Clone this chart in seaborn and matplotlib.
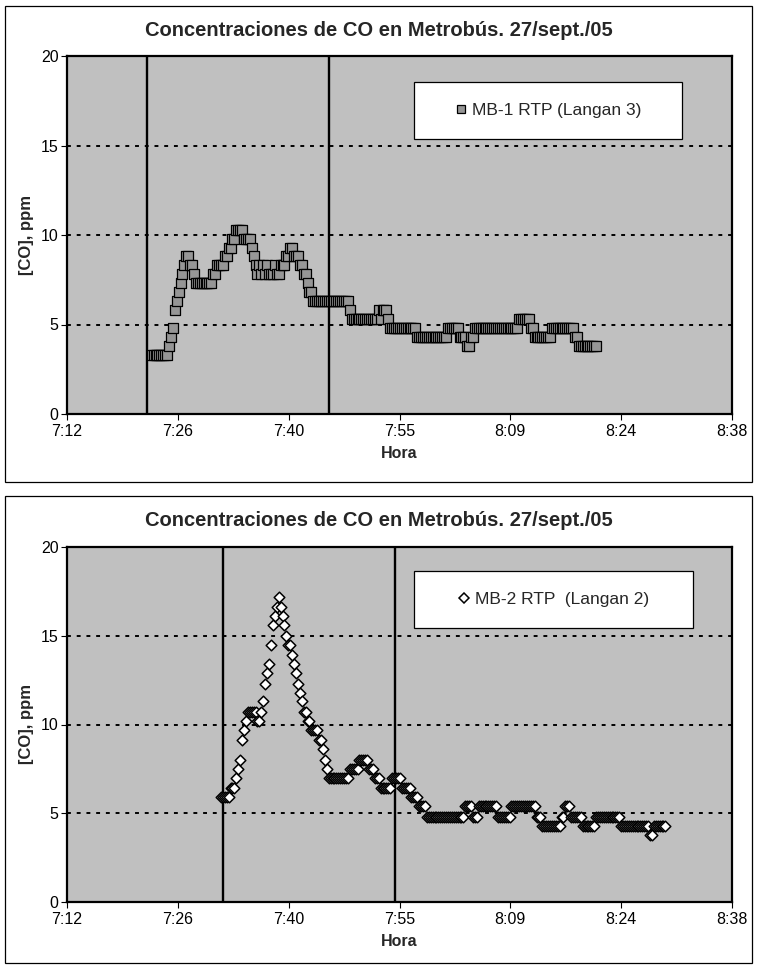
import pandas as pd
import matplotlib
matplotlib.use("Agg")
import matplotlib.pyplot as plt
from matplotlib.patches import Rectangle
from matplotlib.lines import Line2D
import seaborn as sns

# ---------------- data ----------------
title_text = "Concentraciones de CO en Metrobús. 27/sept./05"
x_label = "Hora"
y_label = "[CO], ppm"
tick_minutes = [432.0, 446.4, 460.8, 475.2, 489.6, 504.0, 518.4]
tick_labels = ["7:12", "7:26", "7:40", "7:55", "8:09", "8:24", "8:38"]
y_ticks = [0, 5, 10, 15, 20]
sample_step = "15s"

mb1_label = "MB-1 RTP (Langan 3)"
mb1_start = "07:23:00"
mb1_events = ["07:22:25", "07:46:00"]
mb1_co = [
    3.3, 3.3, 3.3, 3.3, 3.3, 3.3, 3.3, 3.3, 3.3,
    3.8, 4.3, 4.8, 5.8, 6.3, 6.8, 7.3, 7.8, 8.3, 8.8, 8.8, 8.3, 8.3, 7.8,
    7.3, 7.3, 7.3, 7.3, 7.3, 7.3, 7.3, 7.3, 7.3,
    7.8, 7.8, 8.3, 8.3, 8.3, 8.3, 8.8, 8.8, 9.3, 9.3, 9.8, 9.8,
    10.3, 10.3, 10.3, 10.3, 9.8, 9.8, 9.8, 9.8, 9.3, 8.8, 8.3, 7.8,
    8.3, 7.8, 8.3, 7.8, 8.3, 7.8, 7.8, 7.8, 8.3, 7.8, 7.8, 8.3, 8.3, 8.3,
    8.8, 8.8, 9.3, 9.3, 8.8, 8.8, 8.8, 8.3, 8.3, 7.8, 7.8, 7.3, 6.8, 6.8,
    6.3, 6.3, 6.3, 6.3, 6.3, 6.3, 6.3, 6.3, 6.3, 6.3,
    6.3, 6.3, 6.3, 6.3, 6.3, 6.3, 6.3, 6.3, 6.3,
    5.8,
    5.3, 5.3, 5.3, 5.3, 5.3, 5.3, 5.3, 5.3, 5.3, 5.3, 5.3, 5.3, 5.3, 5.3,
    5.8, 5.3, 5.8, 5.8, 5.8, 5.3,
    4.8, 4.8, 4.8, 4.8, 4.8, 4.8, 4.8, 4.8, 4.8, 4.8, 4.8, 4.8, 4.8, 4.8,
    4.3, 4.3, 4.3, 4.3, 4.3, 4.3, 4.3, 4.3, 4.3, 4.3, 4.3, 4.3, 4.3, 4.3, 4.3, 4.3,
    4.8, 4.8, 4.8, 4.8, 4.8, 4.8,
    4.3, 4.3, 4.3, 4.3, 3.8, 3.8, 4.3, 4.3,
    4.8, 4.8, 4.8, 4.8, 4.8, 4.8, 4.8, 4.8, 4.8, 4.8, 4.8, 4.8,
    4.8, 4.8, 4.8, 4.8, 4.8, 4.8, 4.8, 4.8, 4.8, 4.8, 4.8,
    5.3, 5.3, 5.3, 5.3, 5.3, 5.3,
    4.8, 4.8,
    4.3, 4.3, 4.3, 4.3, 4.3, 4.3, 4.3, 4.3, 4.3,
    4.8, 4.8, 4.8, 4.8, 4.8, 4.8, 4.8, 4.8, 4.8, 4.8, 4.8, 4.8,
    4.3, 4.3,
    3.8, 3.8, 3.8, 3.8, 3.8, 3.8, 3.8, 3.8, 3.8, 3.8,
]

mb2_label = "MB-2 RTP  (Langan 2)"
mb2_start = "07:32:00"
mb2_events = ["07:32:15", "07:54:35"]
mb2_co = [
    5.9, 5.9, 5.9, 5.9, 5.9, 6.4, 6.4, 6.4,
    7.0, 7.5, 8.0, 9.1, 9.7, 10.2,
    10.7, 10.7, 10.7, 10.7, 10.7, 10.2, 10.2, 10.7, 11.3,
    12.3, 12.9, 13.4, 14.5, 15.6, 16.1, 16.6, 17.2,
    16.6, 16.1, 15.6, 15.0, 14.5, 14.5, 13.9, 13.4, 12.9, 12.3, 11.8, 11.3,
    10.7, 10.7, 10.2, 10.2, 9.7, 9.7, 9.7, 9.7, 9.1, 9.1, 8.6, 8.0, 7.5,
    7.0, 7.0, 7.0, 7.0, 7.0, 7.0, 7.0, 7.0, 7.0, 7.0, 7.0,
    7.5, 7.5, 7.5, 7.5, 7.5,
    8.0, 8.0, 8.0, 8.0, 8.0,
    7.5, 7.5, 7.5,
    7.0, 7.0, 7.0,
    6.4, 6.4, 6.4, 6.4, 6.4, 6.4,
    7.0, 7.0, 7.0, 7.0, 7.0,
    6.4, 6.4, 6.4, 6.4, 6.4,
    5.9, 5.9, 5.9, 5.9,
    5.4, 5.4, 5.4, 5.4,
    4.8, 4.8, 4.8, 4.8, 4.8, 4.8, 4.8, 4.8, 4.8, 4.8,
    4.8, 4.8, 4.8, 4.8, 4.8, 4.8, 4.8, 4.8, 4.8, 4.8,
    5.4, 5.4, 5.4, 5.4,
    4.8, 4.8, 4.8,
    5.4, 5.4, 5.4, 5.4, 5.4, 5.4, 5.4, 5.4, 5.4, 5.4,
    4.8, 4.8, 4.8, 4.8, 4.8, 4.8, 4.8,
    5.4, 5.4, 5.4, 5.4, 5.4, 5.4, 5.4, 5.4, 5.4, 5.4, 5.4, 5.4, 5.4,
    4.8, 4.8, 4.8,
    4.3, 4.3, 4.3, 4.3, 4.3, 4.3, 4.3, 4.3, 4.3, 4.3,
    4.8, 4.8,
    5.4, 5.4, 5.4,
    4.8, 4.8, 4.8, 4.8, 4.8, 4.8,
    4.3, 4.3, 4.3, 4.3, 4.3, 4.3, 4.3,
    4.8, 4.8, 4.8, 4.8, 4.8, 4.8, 4.8, 4.8, 4.8, 4.8, 4.8, 4.8, 4.8,
    4.3, 4.3, 4.3, 4.3, 4.3, 4.3, 4.3, 4.3, 4.3, 4.3, 4.3, 4.3, 4.3, 4.3, 4.3,
    3.8, 3.8,
    4.3, 4.3, 4.3, 4.3, 4.3, 4.3, 4.3,
]


def clock_minutes(t):
    h, m, s = (int(p) for p in t.split(":"))
    return h * 60 + m + s / 60.0


def series_frame(start, values):
    stamps = pd.date_range("2005-09-27 " + start, periods=len(values), freq=sample_step)
    minutes = stamps.hour * 60 + stamps.minute + stamps.second / 60.0
    return pd.DataFrame({"minute": minutes, "co": values})


# ---------------- figure ----------------
W, H = 757, 967
sns.set_theme(style="white")
plt.rcParams["font.family"] = ["Liberation Sans Narrow", "Liberation Sans", "DejaVu Sans"]

fig = plt.figure(figsize=(W / 100, H / 100), dpi=100)
fig.patch.set_facecolor("white")


def px_rect(left, top, right, bottom):
    return [left / W, 1 - bottom / H, (right - left) / W, (bottom - top) / H]


def draw_panel(frame_box, plot_box, title_y, df, events, marker, msize, edge_w, face,
               label, legend_box, legend_msize):
    # chart-area frame
    fl, ft, fr, fb = frame_box
    fig.add_artist(Rectangle((fl / W, 1 - fb / H), (fr - fl) / W, (fb - ft) / H,
                             transform=fig.transFigure, fill=False,
                             edgecolor="black", linewidth=0.9))

    ax = fig.add_axes(px_rect(*plot_box))
    ax.set_facecolor("#c0c0c0")

    for v in y_ticks[1:]:
        ax.axhline(v, color="black", linewidth=1.4, linestyle=(0, (2, 3)), zorder=1)
    for t in events:
        ax.axvline(clock_minutes(t), color="black", linewidth=1.7, zorder=2)

    sns.scatterplot(data=df, x="minute", y="co", marker=marker, s=msize ** 2,
                    color=face, edgecolor="black", linewidth=edge_w,
                    legend=False, ax=ax, zorder=3)

    ax.set_xlim(tick_minutes[0], tick_minutes[-1])
    ax.set_ylim(y_ticks[0], y_ticks[-1])
    ax.set_xticks(tick_minutes)
    ax.set_xticklabels(tick_labels)
    ax.set_yticks(y_ticks)
    ax.set_xlabel("")
    ax.set_ylabel("")
    ax.tick_params(axis="both", which="major", direction="out", length=4, width=0.8,
                   color="black", labelcolor="black", labelsize=11.5,
                   bottom=True, left=True)
    ax.tick_params(axis="x", pad=3)
    ax.tick_params(axis="y", pad=2)
    for sp in ax.spines.values():
        sp.set_visible(True)
        sp.set_color("black")
        sp.set_linewidth(1.6)

    # legend box
    ll, lt, lr, lb = legend_box
    pl, pt, pr, pb = plot_box
    x0 = (ll - pl) / (pr - pl)
    y0 = (pb - lb) / (pb - pt)
    w = (lr - ll) / (pr - pl)
    h = (lb - lt) / (pb - pt)
    ax.add_patch(Rectangle((x0, y0), w, h, transform=ax.transAxes, facecolor="white",
                           edgecolor="black", linewidth=0.9, zorder=4))
    handle = Line2D([], [], linestyle="none", marker=marker, markersize=legend_msize,
                    markerfacecolor=face, markeredgecolor="black", markeredgewidth=edge_w)
    leg = ax.legend([handle], [label], loc="center",
                    bbox_to_anchor=(x0 + w / 2, y0 + h / 2), frameon=False,
                    fontsize=12.5, handlelength=0.7, handletextpad=0.3,
                    borderaxespad=0)
    leg.set_zorder(5)

    # titles and axis labels
    fig.text(0.5, 1 - title_y / H, title_text, ha="center", va="center",
             fontsize=14.5, fontweight="bold")
    fig.text((pl + pr) / 2 / W, 1 - (pb + 40) / H, x_label, ha="center", va="center",
             fontsize=11.5, fontweight="bold")
    fig.text(27 / W, 1 - (pt + pb) / 2 / H, y_label, ha="center", va="center",
             rotation=90, fontsize=12, fontweight="bold")
    return ax


draw_panel((5, 6, 752, 482), (67, 56, 732, 414), 30,
           series_frame(mb1_start, mb1_co), mb1_events, "s", 7.0, 0.9, "#969696",
           mb1_label, (414, 82, 682, 139), 6.0)

draw_panel((5, 496, 752, 963), (67, 547, 732, 902), 521,
           series_frame(mb2_start, mb2_co), mb2_events, "D", 5.4, 1.1, "white",
           mb2_label, (414, 571, 693, 628), 4.6)

fig.savefig("out.png", dpi=100, facecolor="white")
